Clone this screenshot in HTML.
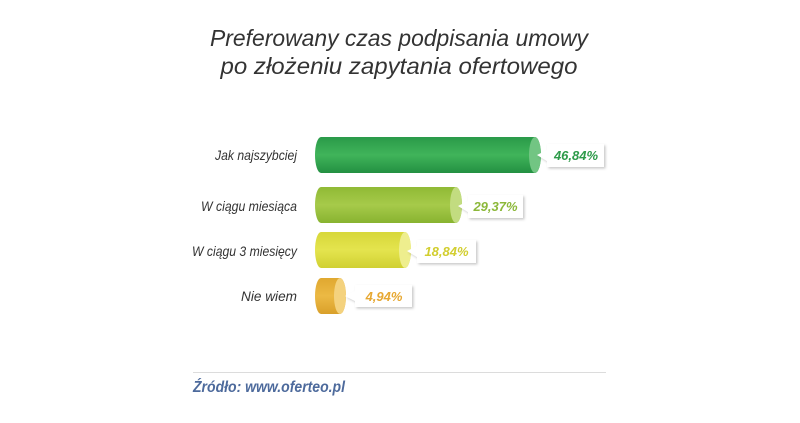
<!DOCTYPE html>
<html><head><meta charset="utf-8"><style>
html,body{margin:0;padding:0;background:#fff;}
svg{display:block;}
</style></head><body>
<svg width="800" height="423" viewBox="0 0 800 423" xmlns="http://www.w3.org/2000/svg">
<defs>
<linearGradient id="g1" x1="0" y1="0" x2="0" y2="1"><stop offset="0" stop-color="#2a9a49"/><stop offset="0.5" stop-color="#40b45a"/><stop offset="1" stop-color="#239042"/></linearGradient>
<linearGradient id="g2" x1="0" y1="0" x2="0" y2="1"><stop offset="0" stop-color="#90ba35"/><stop offset="0.5" stop-color="#a6ca4a"/><stop offset="1" stop-color="#88b330"/></linearGradient>
<linearGradient id="g3" x1="0" y1="0" x2="0" y2="1"><stop offset="0" stop-color="#d7d739"/><stop offset="0.5" stop-color="#e4e44e"/><stop offset="1" stop-color="#d0d032"/></linearGradient>
<linearGradient id="g4" x1="0" y1="0" x2="0" y2="1"><stop offset="0" stop-color="#e0a830"/><stop offset="0.5" stop-color="#ecb944"/><stop offset="1" stop-color="#d9a02a"/></linearGradient>
<filter id="sh" x="-20%" y="-30%" width="150%" height="170%"><feDropShadow dx="1.5" dy="1.5" stdDeviation="1.2" flood-color="#000" flood-opacity="0.22"/></filter>
</defs>
<rect width="800" height="423" fill="#fff"/>
<g font-family="Liberation Sans, sans-serif" font-style="italic" fill="#333">
<text x="399" y="46" font-size="23" text-anchor="middle" textLength="378" lengthAdjust="spacingAndGlyphs">Preferowany czas podpisania umowy</text>
<text x="399" y="74" font-size="23" text-anchor="middle" textLength="357" lengthAdjust="spacingAndGlyphs">po złożeniu zapytania ofertowego</text>
<g font-size="14" text-anchor="end">
<text x="297" y="160" textLength="82" lengthAdjust="spacingAndGlyphs">Jak najszybciej</text>
<text x="297" y="211" textLength="96" lengthAdjust="spacingAndGlyphs">W ciągu miesiąca</text>
<text x="297" y="256" textLength="105" lengthAdjust="spacingAndGlyphs">W ciągu 3 miesięcy</text>
<text x="297" y="301" textLength="56" lengthAdjust="spacingAndGlyphs">Nie wiem</text>
</g>
</g>
<!-- bars -->
<rect x="315" y="137" width="226" height="36" rx="6" ry="18" fill="url(#g1)"/>
<ellipse cx="535" cy="155" rx="6" ry="18" fill="#72c583"/>
<rect x="315" y="187" width="147" height="36" rx="6" ry="18" fill="url(#g2)"/>
<ellipse cx="456" cy="205" rx="6" ry="18" fill="#c2dc80"/>
<rect x="315" y="232" width="96" height="36" rx="6" ry="18" fill="url(#g3)"/>
<ellipse cx="405" cy="250" rx="6" ry="18" fill="#eeee8e"/>
<rect x="315" y="278" width="31" height="36" rx="6" ry="18" fill="url(#g4)"/>
<ellipse cx="340" cy="296" rx="6" ry="18" fill="#f4d27e"/>
<!-- labels -->
<g filter="url(#sh)" fill="#fff">
<path d="M547 144 H604 V167 H547 V161 L537 155 L547 150 Z"/>
<path d="M468 195 H523 V218 H468 V212 L458 206 L468 201 Z"/>
<path d="M417 240 H476 V263 H417 V257 L407 251 L417 246 Z"/>
<path d="M355 285 H412 V307 H355 V301 L345 296 L355 291 Z"/>
</g>
<g font-family="Liberation Sans, sans-serif" font-style="italic" font-weight="bold" font-size="13" text-anchor="middle">
<text x="576" y="160" fill="#2e9b4a">46,84%</text>
<text x="495.5" y="211" fill="#8cb83a">29,37%</text>
<text x="446.5" y="256" fill="#d2ce30">18,84%</text>
<text x="384" y="301" fill="#e7a832">4,94%</text>
</g>
<line x1="193" y1="372.5" x2="606" y2="372.5" stroke="#dcdcdc" stroke-width="1"/>
<text x="193" y="392" font-family="Liberation Sans, sans-serif" font-style="italic" font-weight="bold" font-size="16" fill="#4d6a9c" textLength="152" lengthAdjust="spacingAndGlyphs">Źródło: www.oferteo.pl</text>
</svg>
</body></html>
